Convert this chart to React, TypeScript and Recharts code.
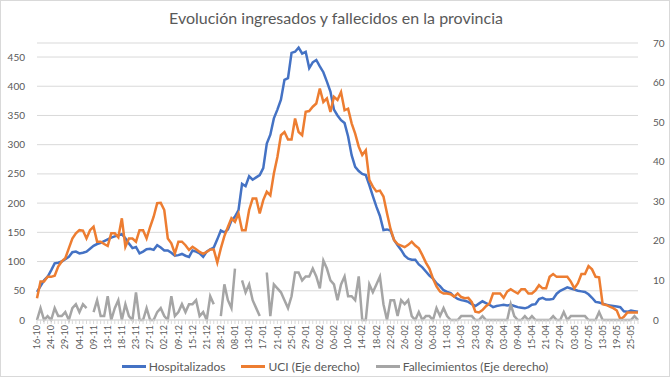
import { LineChart, Line, XAxis, YAxis, CartesianGrid, Legend } from 'recharts'

// one label every 4 categories
const tickDates = [
  '16-10', '24-10', '29-10', '04-11', '09-11', '13-11', '18-11', '23-11', '27-11', '02-12',
  '09-12', '15-12', '21-12', '28-12', '08-01', '13-01', '17-01', '21-01', '25-01', '29-01',
  '02-02', '06-02', '10-02', '14-02', '18-02', '22-02', '26-02', '02-03', '06-03', '11-03',
  '16-03', '23-03', '29-03', '03-04', '09-04', '15-04', '21-04', '27-04', '03-05', '07-05',
  '13-05', '19-05', '25-05',
]

const hospitalizados = [
  48, 58, 68, 74, 85, 97, 98, 100, 104, 108,
  116, 117, 114, 115, 117, 122, 127, 130, 132, 135,
  138, 141, 143, 145, 147, 140, 131, 123, 125, 114,
  117, 121, 122, 120, 128, 124, 119, 119, 115, 110,
  111, 113, 110, 108, 119, 117, 114, 108, 117, 121,
  124, 138, 153, 150, 155, 170, 177, 188, 233, 229,
  246, 240, 244, 248, 260, 302, 317, 345, 360, 377,
  411, 414, 457, 459, 466, 456, 459, 431, 441, 445,
  434, 424, 408, 391, 360, 350, 342, 337, 314, 282,
  262, 255, 250, 248, 231, 212, 194, 178, 154, 155,
  153, 137, 128, 120, 110, 105, 103, 103, 95, 90,
  83, 76, 71, 63, 58, 51, 48, 46, 40, 36,
  34, 33, 31, 27, 24, 28, 32, 29, 26, 22,
  24, 25, 26, 25, 26, 24, 22, 21, 20, 22,
  26, 27, 36, 38, 35, 35, 36, 45, 50, 53,
  56, 54, 52, 50, 49, 48, 44, 38, 31, 30,
  28, 26, 25, 24, 23, 22, 15, 14, 16, 15,
  14,
]

const uci = [
  5.5, 9.7, 9.7, 10.9, 10.9, 11.2, 13.5, 14.8, 15.6, 18.1,
  20.6, 21.9, 22.7, 22.6, 20.6, 22.7, 23.6, 19.8, 19.8, 19.2,
  18.7, 21.9, 21.9, 20.9, 25.7, 18.5, 20.6, 20.6, 19.8, 22.7,
  22.7, 20.6, 23.5, 26.1, 29.5, 29.6, 27.8, 20.6, 19.4, 16.8,
  19.8, 19.8, 18.9, 17.7, 18.5, 17.9, 17.2, 16.7, 17.2, 17.8,
  17.8, 14.5, 18.1, 21.2, 23.5, 25.7, 24.8, 26.9, 22.7, 22.7,
  27.8, 30.7, 30.7, 26.9, 30.3, 32.4, 31.5, 37, 41.2, 46.7,
  47.5, 45.6, 45.6, 50.9, 47.5, 46.7, 52.6, 52.8, 53.9, 54.7,
  58.5, 55.1, 56, 52.6, 56.4, 55.6, 57.6, 53, 53.4, 49.7,
  47.1, 43.8, 41.7, 42.9, 35.4, 33.7, 32.5, 32.7, 31.2, 27,
  23, 20.2, 19.2, 18.8, 18.4, 19, 19.8, 18.8, 18.1, 16.4,
  14.5, 13, 10.5, 8.5, 7.2, 6.7, 6.7, 6.5, 5.9, 6.7,
  5.8, 5.5, 5.6, 4.5, 2.1, 1.9, 2.5, 3.5, 4.2, 6.7,
  6.7, 6.7, 5.6, 7.2, 7.8, 7.2, 6.7, 7.8, 7.8, 6.7,
  6.7, 7.5, 8.8, 8, 8, 10.9, 11.6, 10.9, 10.9, 10.9,
  10.9, 9.7, 8, 9.3, 11.6, 11.6, 13.6, 12.8, 10.9, 10.8,
  4, 3.8, 3.4, 3, 2.4, 0.2, 0.8, 1.9, 1.9, 1.9,
  1.9,
]

// null = no data (gap in the line)
const fallecimientos = [
  0, 3, 0, 1, 0, 3, 1, 1, 2, 0,
  3, 4, 2, 4, 3, null, 2, 5, 1, 1,
  6, 0, 3, 5, 0, 4, 1, 0, 7, 0,
  0, 3, 0, 0, 2, 3, 1, 0, 6, 1,
  2, 4, 2, 4, 4, 5, 1, 2, 0, 6,
  4, null, 1, 9, 5, 3, 13, null, 10, 7,
  9, 5, 3, 1, null, 12, 1, 9, 8, 7,
  5, 3, 6, 12, 12, 10, 11, 11, 13, 11,
  8, 15, 13, 10, 9, 5, 9, 11, 6, 6,
  5, 11, 0, 0, 9, 7, 9, 11, 4, 0,
  5, 5, 1, 5, 4, 5, 1, 0, 2, 0,
  1, 1, 0, 3, 1, 3, 1, 0, 0, 0,
  1, 1, 1, 1, 0, 0, 1, 0, 0, 0,
  0, 0, 0, 0, 4, 1, 0, 0, 1, 0,
  1, 0, 0, 0, 0, 0, 1, 0, 0, 2,
  0, 1, 1, 1, 1, 1, 0, 0, 0, 2,
  0, 0, 0, 0, 0, 0, 0, 0, 0, 1,
  0,
]

const leftTicks = [0, 50, 100, 150, 200, 250, 300, 350, 400, 450]
const rightTicks = [0, 10, 20, 30, 40, 50, 60, 70]

const chartData = hospitalizados.map((h, i) => ({
  idx: i,
  hospitalizados: h,
  uci: uci[i],
  fallecimientos: fallecimientos[i],
}))

const FONT = 'Lato, "Open Sans", sans-serif'
const TEXT = '#595959'
const GRID = '#d9d9d9'

const legendItems = [
  { label: 'Hospitalizados', color: '#4472C4' },
  { label: 'UCI (Eje derecho)', color: '#ED7D31' },
  { label: 'Fallecimientos (Eje derecho)', color: '#A5A5A5' },
]

function DateTick({ x, y, payload }: { x: number; y: number; payload: { value: number } }) {
  const i = payload.value
  if (i % 4 !== 0) return null
  return (
    <text
      transform={`translate(${x},${y}) rotate(-90)`}
      textAnchor="end"
      dy="0.35em"
      fontSize={9}
      fill={TEXT}
      fontFamily={FONT}
    >
      {tickDates[i / 4]}
    </text>
  )
}

function LegendContent() {
  return (
    <div
      style={{
        height: 16,
        display: 'flex',
        justifyContent: 'center',
        alignItems: 'center',
        gap: 16,
        fontFamily: FONT,
        fontSize: 12,
        color: TEXT,
      }}
    >
      {legendItems.map((item) => (
        <div key={item.label} style={{ display: 'flex', alignItems: 'center', gap: 3 }}>
          <span style={{ width: 24, height: 3, background: item.color, display: 'inline-block' }} />
          <span>{item.label}</span>
        </div>
      ))}
    </div>
  )
}

export default function App() {
  return (
    <div
      style={{
        position: 'absolute',
        left: 0,
        top: 0,
        width: 670,
        height: 377,
        background: '#fff',
        border: `1px solid ${GRID}`,
        boxSizing: 'border-box',
      }}
    >
      <div
        style={{
          position: 'absolute',
          top: 7,
          left: 0,
          width: 670,
          textAlign: 'center',
          fontFamily: FONT,
          fontSize: 16,
          color: TEXT,
        }}
      >
        Evolución ingresados y fallecidos en la provincia
      </div>
      <div style={{ position: 'absolute', left: -1, top: -1 }}>
        <LineChart
          width={670}
          height={377}
          data={chartData}
          margin={{ top: 43, right: 0, bottom: 3, left: 0 }}
        >
          <CartesianGrid vertical={false} stroke={GRID} yAxisId="left" />
          <XAxis
            dataKey="idx"
            interval={0}
            height={38}
            tick={DateTick}
            tickSize={4}
            tickMargin={1}
            tickLine={{ stroke: GRID }}
            axisLine={{ stroke: GRID }}
          />
          <YAxis
            yAxisId="left"
            width={37}
            domain={[0, 474]}
            ticks={leftTicks}
            axisLine={false}
            tickLine={false}
            tick={{ fontSize: 10, fill: TEXT, fontFamily: FONT }}
            tickMargin={6}
          />
          <YAxis
            yAxisId="right"
            orientation="right"
            width={32}
            domain={[0, 70]}
            ticks={rightTicks}
            axisLine={false}
            tickLine={false}
            tick={{ fontSize: 10, fill: TEXT, fontFamily: FONT }}
            tickMargin={9}
          />
          <Legend verticalAlign="bottom" content={<LegendContent />} />
          <Line
            yAxisId="left"
            dataKey="hospitalizados"
            stroke="#4472C4"
            strokeWidth={2.5}
            dot={false}
            isAnimationActive={false}
          />
          <Line
            yAxisId="right"
            dataKey="uci"
            stroke="#ED7D31"
            strokeWidth={2.5}
            dot={false}
            isAnimationActive={false}
          />
          <Line
            yAxisId="right"
            dataKey="fallecimientos"
            stroke="#A5A5A5"
            strokeWidth={2.5}
            dot={false}
            connectNulls={false}
            isAnimationActive={false}
          />
        </LineChart>
      </div>
    </div>
  )
}
